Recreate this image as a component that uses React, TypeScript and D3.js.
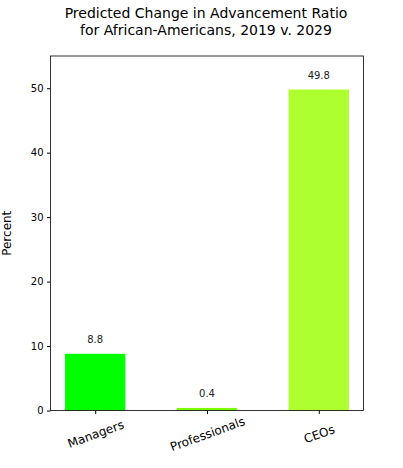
import * as d3 from 'd3'
import React, { useEffect, useRef } from 'react'

const categories = ['Managers', 'Professionals', 'CEOs']
const values = [8.8, 0.4, 49.8]
const colors = ['#00ff00', '#7cfc00', '#adff2f']
const yTicks = [0, 10, 20, 30, 40, 50]
const titleLines = ['Predicted Change in Advancement Ratio', 'for African-Americans, 2019 v. 2029']

const W = 403
const H = 468
const margin = { top: 56, right: 39.5, bottom: 57.5, left: 50.5 }

export default function App() {
  const svgRef = useRef<SVGSVGElement | null>(null)

  useEffect(() => {
    const svg = d3.select(svgRef.current)
    svg.selectAll('*').remove()

    const x = d3.scaleLinear().domain([-0.4, 2.4]).range([margin.left, W - margin.right])
    const y = d3.scaleLinear().domain([0, 55]).range([H - margin.bottom, margin.top])
    const barWidth = 0.54

    const font = 'DejaVu Sans, sans-serif'

    // title
    svg
      .append('g')
      .selectAll('text')
      .data(titleLines)
      .enter()
      .append('text')
      .attr('x', 206)
      .attr('y', (_, i) => 18 + i * 16.5)
      .attr('text-anchor', 'middle')
      .style('font-family', font)
      .style('font-size', '14px')
      .text((d) => d)

    // bars
    svg
      .append('g')
      .selectAll('rect')
      .data(values)
      .enter()
      .append('rect')
      .attr('x', (_, i) => x(i - barWidth / 2))
      .attr('width', (_, i) => x(i + barWidth / 2) - x(i - barWidth / 2))
      .attr('y', (d) => y(d))
      .attr('height', (d) => y(0) - y(d))
      .attr('fill', (_, i) => colors[i])

    // value labels
    svg
      .append('g')
      .selectAll('text')
      .data(values)
      .enter()
      .append('text')
      .attr('x', (_, i) => x(i))
      .attr('y', (d) => y(d) - 10.5)
      .attr('text-anchor', 'middle')
      .style('font-family', font)
      .style('font-size', '10px')
      .attr('fill', '#222')
      .text((d) => d.toFixed(1))

    // y axis
    const yAxis = svg
      .append('g')
      .attr('transform', `translate(${margin.left},0)`)
      .call(d3.axisLeft(y).tickValues(yTicks).tickSize(3.5).tickPadding(3.5).tickFormat(d3.format('d')))
    yAxis.select('.domain').remove()
    yAxis.selectAll('text').style('font-family', font).style('font-size', '10px').attr('fill', '#000')

    // x axis
    const xAxis = svg
      .append('g')
      .attr('transform', `translate(0,${H - margin.bottom})`)
      .call(
        d3
          .axisBottom(x)
          .tickValues([0, 1, 2])
          .tickSize(3.5)
          .tickFormat((d) => categories[d as number])
      )
    xAxis.select('.domain').remove()
    xAxis
      .selectAll('text')
      .style('font-family', font)
      .style('font-size', '12px')
      .attr('fill', '#000')
      .attr('text-anchor', 'middle')
      .attr('transform', 'translate(0,23.5) rotate(-20)')
      .attr('dy', '0.35em')
      .attr('y', 0)

    // frame
    svg
      .append('rect')
      .attr('x', margin.left)
      .attr('y', margin.top)
      .attr('width', W - margin.left - margin.right)
      .attr('height', H - margin.top - margin.bottom)
      .attr('fill', 'none')
      .attr('stroke', '#000')
      .attr('stroke-width', 0.8)

    // y label
    svg
      .append('text')
      .attr('transform', `translate(6.5,${(margin.top + H - margin.bottom) / 2}) rotate(-90)`)
      .attr('text-anchor', 'middle')
      .attr('dy', '0.35em')
      .style('font-family', font)
      .style('font-size', '12px')
      .text('Percent')
  }, [])

  return (
    <svg
      ref={svgRef}
      width={W}
      height={H}
      style={{ position: 'absolute', left: 0, top: 0, background: '#fff' }}
    ></svg>
  )
}
